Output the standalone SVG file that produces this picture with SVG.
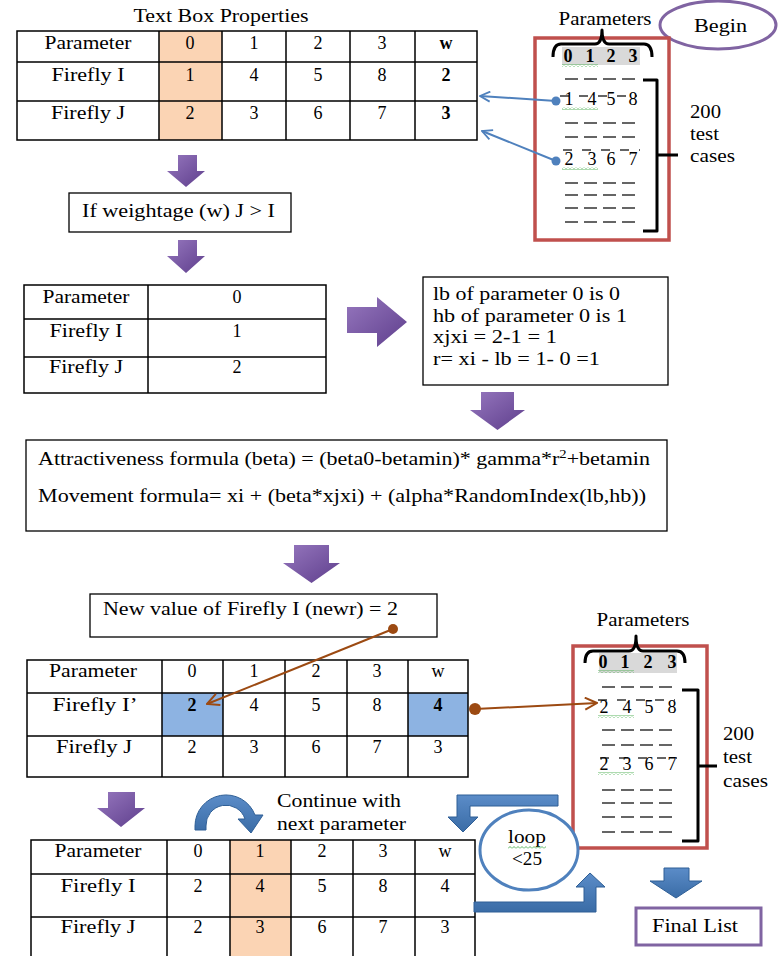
<svg xmlns="http://www.w3.org/2000/svg" width="778" height="956" viewBox="0 0 778 956" font-family="Liberation Serif, Times New Roman, serif">
  <defs>
    <style>
      text { font-family: 'Liberation Serif', 'Times New Roman', Times, serif; }
      .t { font-size: 18px; fill: #000; }
      .c { text-anchor: middle; }
      .b { font-weight: bold; }
      .grid { stroke: #000; stroke-width: 1.5; fill: none; }
      .box { stroke: #000; stroke-width: 1.3; fill: #fff; }
      .panel { stroke: #C0504D; stroke-width: 3.5; fill: #fff; }
      .brace { stroke: #000; stroke-width: 3; fill: none; stroke-linejoin: round; }
      .dash { stroke: #333; stroke-width: 1.5; stroke-dasharray: 13 6; }
      .ovl { stroke: #333; stroke-width: 1.5; stroke-dasharray: 9 10; }
      .hl { fill: #D9D9D9; }
      .orange { fill: #FBD4B4; }
      .blue { fill: #8DB3E2; }
      .parrow { fill: url(#purpleGrad); }
      .barrow { fill: url(#blueGrad); stroke: #2F5F96; stroke-width: 1; }
      .squig { fill: url(#squigPat); }
      .link-blue { stroke: #4F81BD; stroke-width: 2; fill: none; }
      .link-brown { stroke: #9C4A12; stroke-width: 2; fill: none; }
    </style>
    <linearGradient id="purpleGrad" x1="0" y1="0" x2="1" y2="1">
      <stop offset="0" stop-color="#9677BE"/>
      <stop offset="1" stop-color="#5E3E8C"/>
    </linearGradient>
    <linearGradient id="blueGrad" x1="0" y1="0" x2="0" y2="1">
      <stop offset="0" stop-color="#5B8CC8"/>
      <stop offset="1" stop-color="#3A6CA6"/>
    </linearGradient>
    <pattern id="squigPat" x="0" y="0" width="4" height="3" patternUnits="userSpaceOnUse">
      <path d="M0,2.5 L2,0.5 L4,2.5" fill="none" stroke="#4CAF50" stroke-width="0.9"/>
    </pattern>
    <marker id="headBlue" viewBox="0 0 12 12" refX="11" refY="6" markerWidth="12" markerHeight="12" orient="auto" markerUnits="userSpaceOnUse">
      <path d="M1,1 L11,6 L1,11" fill="none" stroke="#4F81BD" stroke-width="1.8"/>
    </marker>
    <marker id="headBrown" viewBox="0 0 14 14" refX="13" refY="7" markerWidth="14" markerHeight="14" orient="auto" markerUnits="userSpaceOnUse">
      <path d="M1,1 L13,7 L1,13" fill="none" stroke="#9C4A12" stroke-width="2"/>
    </marker>
  </defs>

  <rect width="778" height="956" fill="#fff"/>

  <!-- Text box properties table -->
  <g id="table-properties">
    <text class="t c" x="221" y="22" textLength="175" lengthAdjust="spacingAndGlyphs">Text Box Properties</text>
    <rect class="orange" x="159" y="31" width="63" height="109"/>
    <rect class="grid" x="17" y="31" width="460" height="109"/>
    <path class="grid" d="M17,62 H477 M17,101 H477 M159,31 V140 M222,31 V140 M286,31 V140 M350,31 V140 M415,31 V140"/>
    <text class="t c" x="88" y="49" textLength="87" lengthAdjust="spacingAndGlyphs">Parameter</text>
    <text class="t c" x="88" y="81" textLength="73" lengthAdjust="spacingAndGlyphs">Firefly I</text>
    <text class="t c" x="88" y="119" textLength="74" lengthAdjust="spacingAndGlyphs">Firefly J</text>
    <text class="t c" x="190 254 318 382" y="49">0123</text>
    <text class="t c b" x="446" y="49">w</text>
    <text class="t c" x="190 254 318 382" y="81">1458</text>
    <text class="t c b" x="446" y="81">2</text>
    <text class="t c" x="190 254 318 382" y="119">2367</text>
    <text class="t c b" x="446" y="119">3</text>
  </g>

  <!-- Begin terminal -->
  <g id="begin">
    <ellipse cx="718" cy="25" rx="58" ry="24" fill="#fff" stroke="#8064A2" stroke-width="3"/>
    <text class="t" x="694" y="32" textLength="53" lengthAdjust="spacingAndGlyphs">Begin</text>
  </g>

  <!-- Parameter list of test cases (initial) -->
  <g id="test-cases-1">
    <text class="t c" x="605" y="25" textLength="93" lengthAdjust="spacingAndGlyphs">Parameters</text>
    <rect class="panel" x="535" y="38" width="134" height="202"/>
    <path class="brace" d="M553,57 Q553,44 561,44 L595,44 Q602,44 602,30 Q602,44 609,44 L644,44 Q652,44 652,57"/>
    <rect class="hl" x="562" y="47" width="78" height="18"/>
    <text class="t c b" x="568 590 611 633" y="62">0123</text>
    <rect class="squig" x="562" y="64" width="36" height="3"/>
    <line class="dash" x1="565" y1="79" x2="637" y2="79"/>
    <line class="ovl" x1="560" y1="96" x2="637" y2="96"/>
    <text class="t c" x="569 592 611 633" y="105">1458</text>
    <rect class="squig" x="562" y="107" width="36" height="3"/>
    <line class="dash" x1="565" y1="123" x2="637" y2="123"/>
    <line class="dash" x1="565" y1="137" x2="637" y2="137"/>
    <line class="ovl" x1="563" y1="150" x2="640" y2="150"/>
    <text class="t c" x="569 592 611 633" y="165">2367</text>
    <rect class="squig" x="562" y="167" width="36" height="3"/>
    <line class="dash" x1="565" y1="183" x2="637" y2="183"/>
    <line class="dash" x1="565" y1="195" x2="637" y2="195"/>
    <line class="dash" x1="565" y1="208" x2="637" y2="208"/>
    <line class="dash" x1="565" y1="222" x2="637" y2="222"/>
    <path class="brace" d="M643,80 L657,80 L657,231 L643,231 M657,155 L678,155"/>
    <text class="t" x="690" y="118" textLength="31" lengthAdjust="spacingAndGlyphs">200</text>
    <text class="t" x="690" y="140" textLength="29" lengthAdjust="spacingAndGlyphs">test</text>
    <text class="t" x="690" y="162" textLength="45" lengthAdjust="spacingAndGlyphs">cases</text>
  </g>

  <!-- Weightage check -->
  <g id="check-weight">
    <rect class="box" x="69" y="193" width="222" height="39"/>
    <text class="t" x="82" y="217" textLength="193" lengthAdjust="spacingAndGlyphs">If weightage (w) J &gt; I</text>
  </g>

  <!-- Parameter 0 table -->
  <g id="table-param0">
    <rect class="grid" x="24" y="285" width="302" height="108"/>
    <path class="grid" d="M24,319 H326 M24,357 H326 M148,285 V393"/>
    <text class="t c" x="86" y="303" textLength="87" lengthAdjust="spacingAndGlyphs">Parameter</text>
    <text class="t c" x="86" y="337" textLength="73" lengthAdjust="spacingAndGlyphs">Firefly I</text>
    <text class="t c" x="86" y="373" textLength="74" lengthAdjust="spacingAndGlyphs">Firefly J</text>
    <text class="t c" x="237" y="303">0</text>
    <text class="t c" x="237" y="337">1</text>
    <text class="t c" x="237" y="373">2</text>
  </g>

  <!-- Bounds and distance -->
  <g id="bounds">
    <rect class="box" x="423" y="277" width="245" height="108"/>
    <text class="t" x="433" y="300" textLength="187" lengthAdjust="spacingAndGlyphs">lb of parameter 0 is 0</text>
    <text class="t" x="433" y="322" textLength="194" lengthAdjust="spacingAndGlyphs">hb of parameter 0 is 1</text>
    <text class="t" x="433" y="343" textLength="124" lengthAdjust="spacingAndGlyphs">xjxi = 2-1 = 1</text>
    <text class="t" x="433" y="365" textLength="167" lengthAdjust="spacingAndGlyphs">r= xi  - lb = 1- 0 =1</text>
  </g>

  <!-- Formulas -->
  <g id="formulas">
    <rect class="box" x="26" y="440" width="641" height="91"/>
    <text class="t" x="38" y="465" textLength="612" lengthAdjust="spacingAndGlyphs">Attractiveness formula (beta) = (beta0-betamin)*  gamma*r<tspan font-size="12" dy="-7">2</tspan><tspan dy="7">+betamin</tspan></text>
    <text class="t" x="38" y="502" textLength="608" lengthAdjust="spacingAndGlyphs">Movement formula= xi + (beta*xjxi) + (alpha*RandomIndex(lb,hb))</text>
  </g>

  <!-- New value -->
  <g id="new-value">
    <rect class="box" x="90" y="594" width="347" height="43"/>
    <text class="t" x="103" y="615" textLength="295" lengthAdjust="spacingAndGlyphs">New value of Firefly I (newr) = 2</text>
  </g>

  <!-- Updated table -->
  <g id="table-updated">
    <rect class="blue" x="162" y="693" width="61" height="43"/>
    <rect class="blue" x="408" y="693" width="60" height="43"/>
    <rect class="grid" x="27" y="660" width="441" height="117"/>
    <path class="grid" d="M27,693 H468 M27,736 H468 M162,660 V777 M223,660 V777 M285,660 V777 M347,660 V777 M408,660 V777"/>
    <text class="t c" x="93" y="677" textLength="88" lengthAdjust="spacingAndGlyphs">Parameter</text>
    <text class="t c" x="95" y="711" textLength="85" lengthAdjust="spacingAndGlyphs">Firefly I’</text>
    <text class="t c" x="94" y="753" textLength="76" lengthAdjust="spacingAndGlyphs">Firefly J</text>
    <text class="t c" x="192 254 316 377 438" y="677">0123w</text>
    <text class="t c b" x="192" y="711">2</text>
    <text class="t c" x="254 316 377" y="711">458</text>
    <text class="t c b" x="438" y="711">4</text>
    <text class="t c" x="192 254 316 377 438" y="753">23673</text>
  </g>

  <!-- Parameter list of test cases (updated) -->
  <g id="test-cases-2">
    <text class="t c" x="643" y="626" textLength="93" lengthAdjust="spacingAndGlyphs">Parameters</text>
    <rect class="panel" x="573" y="646" width="134" height="202"/>
    <path class="brace" d="M585,663 Q585,651 593,651 L629,651 Q636,651 636,636 Q636,651 643,651 L677,651 Q685,651 685,663"/>
    <rect class="hl" x="599" y="653" width="78" height="20"/>
    <text class="t c b" x="603 625 648 672" y="668">0123</text>
    <rect class="squig" x="598" y="670" width="36" height="3"/>
    <line class="dash" x1="602" y1="687" x2="675" y2="687"/>
    <line class="ovl" x1="598" y1="700" x2="675" y2="700"/>
    <text class="t c" x="604 627 649 672" y="713">2458</text>
    <rect class="squig" x="598" y="715" width="36" height="3"/>
    <line class="dash" x1="602" y1="730" x2="675" y2="730"/>
    <line class="dash" x1="602" y1="745" x2="675" y2="745"/>
    <line class="ovl" x1="600" y1="758" x2="677" y2="758"/>
    <text class="t c" x="604 627 649 672" y="770">2367</text>
    <rect class="squig" x="598" y="772" width="36" height="3"/>
    <line class="dash" x1="602" y1="790" x2="675" y2="790"/>
    <line class="dash" x1="602" y1="803" x2="675" y2="803"/>
    <line class="dash" x1="602" y1="817" x2="675" y2="817"/>
    <line class="dash" x1="602" y1="832" x2="675" y2="832"/>
    <path class="brace" d="M682,690 L698,690 L698,841 L682,841 M698,766 L717,766"/>
    <text class="t" x="723" y="740" textLength="31" lengthAdjust="spacingAndGlyphs">200</text>
    <text class="t" x="723" y="763" textLength="29" lengthAdjust="spacingAndGlyphs">test</text>
    <text class="t" x="723" y="787" textLength="45" lengthAdjust="spacingAndGlyphs">cases</text>
  </g>

  <!-- Next parameter table -->
  <g id="table-next">
    <rect class="orange" x="230" y="840" width="61" height="116"/>
    <path class="grid" d="M31,956 V840 H475 V956 M31,874 H475 M31,917 H475 M167,840 V956 M230,840 V956 M291,840 V956 M353,840 V956 M415,840 V956"/>
    <text class="t c" x="98" y="857" textLength="87" lengthAdjust="spacingAndGlyphs">Parameter</text>
    <text class="t c" x="98" y="892" textLength="75" lengthAdjust="spacingAndGlyphs">Firefly I</text>
    <text class="t c" x="98" y="933" textLength="75" lengthAdjust="spacingAndGlyphs">Firefly J</text>
    <text class="t c" x="198 260 322 383 445" y="857">0123w</text>
    <text class="t c" x="198 260 322 383 445" y="892">24584</text>
    <text class="t c" x="198 260 322 383 445" y="933">23673</text>
  </g>

  <!-- Continue label -->
  <g id="continue">
    <path class="barrow" d="M195,830 V826 A31,31 0 0 1 255,815 L263,815 L251,833 L238,819 L245,819 A20,20 0 0 0 206,826 V830 Z"/>
    <text class="t" x="277" y="807" textLength="124" lengthAdjust="spacingAndGlyphs">Continue with</text>
    <text class="t" x="277" y="830" textLength="129" lengthAdjust="spacingAndGlyphs">next parameter</text>
  </g>

  <!-- Loop decision -->
  <g id="loop">
    <ellipse cx="529" cy="850" rx="49" ry="40" fill="#fff" stroke="#4F81BD" stroke-width="3"/>
    <text class="t c" x="527" y="843" textLength="38" lengthAdjust="spacingAndGlyphs">loop</text>
    <rect class="squig" x="508" y="846" width="38" height="3"/>
    <text class="t c" x="527" y="865" textLength="30" lengthAdjust="spacingAndGlyphs">&lt;25</text>
  </g>

  <!-- Final list -->
  <g id="final-list">
    <rect x="636" y="908" width="125" height="37" fill="#fff" stroke="#8064A2" stroke-width="3"/>
    <text class="t c" x="695" y="932" textLength="86" lengthAdjust="spacingAndGlyphs">Final List</text>
  </g>

  <!-- Connectors -->
  <g id="connectors">
    <!-- flow arrows -->
    <path class="parrow" d="M178,155 H197 V171 H205 L186,187 L167,171 H178 Z"/>
    <path class="parrow" d="M178,240 H197 V256 H205 L186,273 L167,256 H178 Z"/>
    <path class="parrow" d="M347,307 H377 V297 L407,322 L377,347 V333 H347 Z"/>
    <path class="parrow" d="M481,392 H514 V410 H525 L497.5,430 L470,410 H481 Z"/>
    <path class="parrow" d="M294,545 H329 V563 H340 L311.5,583 L283,563 H294 Z"/>
    <path class="parrow" d="M108,792 H135 V808 H145 L121,827 L97,808 H108 Z"/>
    <!-- loop arrows -->
    <path class="barrow" d="M558,795 V806 H470 V817 H478 L463,832 L448,817 H457 V795 Z"/>
    <path class="barrow" d="M474,902 H584 V887 H576 L590,873 L605,887 H596 V912 H474 Z"/>
    <path class="barrow" d="M664,868 H689 V881 H702 L676,898 L650,881 H664 Z"/>
    <!-- links from test cases to table -->
    <line class="link-blue" x1="556" y1="101" x2="480" y2="96" marker-end="url(#headBlue)"/>
    <circle cx="556" cy="101" r="4.5" fill="#4F81BD"/>
    <line class="link-blue" x1="556" y1="161" x2="482" y2="131" marker-end="url(#headBlue)"/>
    <circle cx="556" cy="161" r="4.5" fill="#4F81BD"/>
    <!-- new value links -->
    <line class="link-brown" x1="393" y1="629" x2="207" y2="704" marker-end="url(#headBrown)"/>
    <circle cx="393" cy="629" r="5" fill="#9C4A12"/>
    <line class="link-brown" x1="475" y1="709" x2="597" y2="703" marker-end="url(#headBrown)"/>
    <circle cx="475" cy="709" r="6" fill="#9C4A12"/>
  </g>
</svg>
